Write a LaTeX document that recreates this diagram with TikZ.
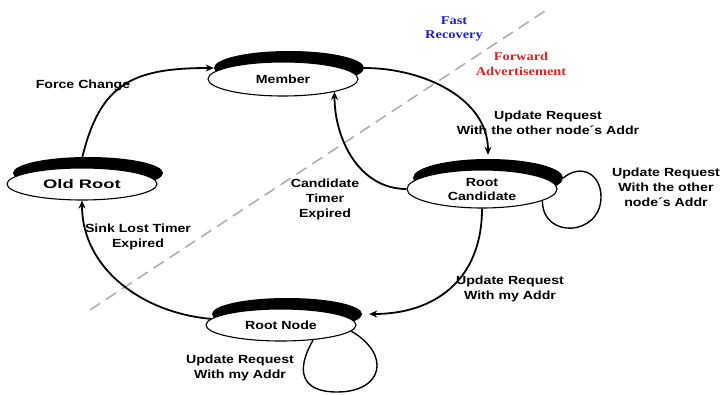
\documentclass[tikz,border=0pt]{standalone}
\usepackage{fontspec}
\usepackage{graphicx}
\usetikzlibrary{shapes.geometric,arrows.meta}
\newfontfamily\lblfont[FakeStretch=1.2]{Liberation Sans}
\newfontfamily\notefont[FakeStretch=1.2]{Liberation Serif}
\definecolor{fastblue}{RGB}{30,30,205}
\definecolor{fwdred}{RGB}{232,32,32}
\definecolor{splitgray}{RGB}{175,175,175}

\begin{document}
\begin{tikzpicture}[x=1pt, y=1pt,
    state/.style={draw, ellipse, fill=white, line width=1.1pt, minimum width=150pt, inner sep=0pt, align=center, font=\lblfont\bfseries\fontsize{11.8}{14}\selectfont},
    rim/.style={ellipse, fill=black, minimum width=150pt, inner sep=0pt},
    trans/.style={-{Stealth[length=8pt,width=7pt]}, line width=1.8pt},
    selfloop/.style={line width=1.4pt},
    lbl/.style={align=center, font=\lblfont\bfseries\fontsize{11.8}{15}\selectfont},
    note/.style={align=center, font=\notefont\bfseries\fontsize{12}{14.5}\selectfont}]
  \useasboundingbox (0,0) rectangle (722,394);
  % split between the two modes
  \coordinate (cutlo) at (90,84);
  \coordinate (cuthi) at (548,385);
  \draw[splitgray, line width=1.6pt, dash pattern=on 12pt off 7pt] (cutlo) -- (cuthi);
  \node[note, text=fastblue] (fast) at (454,365) {Fast\\Recovery};
  \node[note, text=fwdred] (fwd) at (521,330) {Forward\\Advertisement};
  % states, each with its black rim behind
  \foreach \n/\x/\y/\h/\t in {member/283/315/34/Member, oldroot/82/210/32/{\scalebox{1.3}[1.05]{Old Root}}, rootcand/482/205/38/{Root\\Candidate}, rootnode/281/69/32/Root Node}
  {
    \node[rim, minimum height=\h pt] (\n-sh) at ({\x+6},{\y+11}) {};
    \node[state, minimum height=\h pt] (\n) at (\x,\y) {\t};
  }
  % transitions
  \draw[trans] (oldroot.97) to[out=78, in=180, looseness=1.3] (member-sh.west);
  \draw[trans, shorten >=4pt] (member-sh.east) to[out=0, in=90] (rootcand-sh.north);
  \draw[trans] (rootcand.west) to[out=180, in=-90] (member.-14);
  \draw[trans, shorten >=7pt] (rootcand.south) to[out=-90, in=0, looseness=1.15] (rootnode-sh.east);
  \draw[trans] (rootnode.175) to[out=175, in=-90] (oldroot.south);
  % self loops
  \coordinate (rcloop) at (601,197);
  \coordinate (rnloop) at (337,2);
  \draw[selfloop] (rootcand-sh.east) to[out=40, in=90, looseness=1.4] (rcloop) to[out=-90, in=-90, looseness=1.7] (rootcand.-11);
  \draw[selfloop] (rootnode.-5) to[out=-30, in=0, looseness=1.9] (rnloop) to[out=180, in=-120, looseness=1.6] (rootnode.-25);
  % labels
  \node[lbl] (force) at (83,309) {Force Change};
  \node[lbl] (othera) at (548,271) {Update Request\\With the other node´s Addr};
  \node[lbl] (otherb) at (666,207) {Update Request\\With the other\\node´s Addr};
  \node[lbl] (cte) at (325,195) {Candidate\\Timer\\Expired};
  \node[lbl] (sink) at (138,157) {Sink Lost Timer\\Expired};
  \node[lbl] (mya) at (510,105) {Update Request\\With my Addr};
  \node[lbl] (myb) at (240,26) {Update Request\\With my Addr};
\end{tikzpicture}
\end{document}
